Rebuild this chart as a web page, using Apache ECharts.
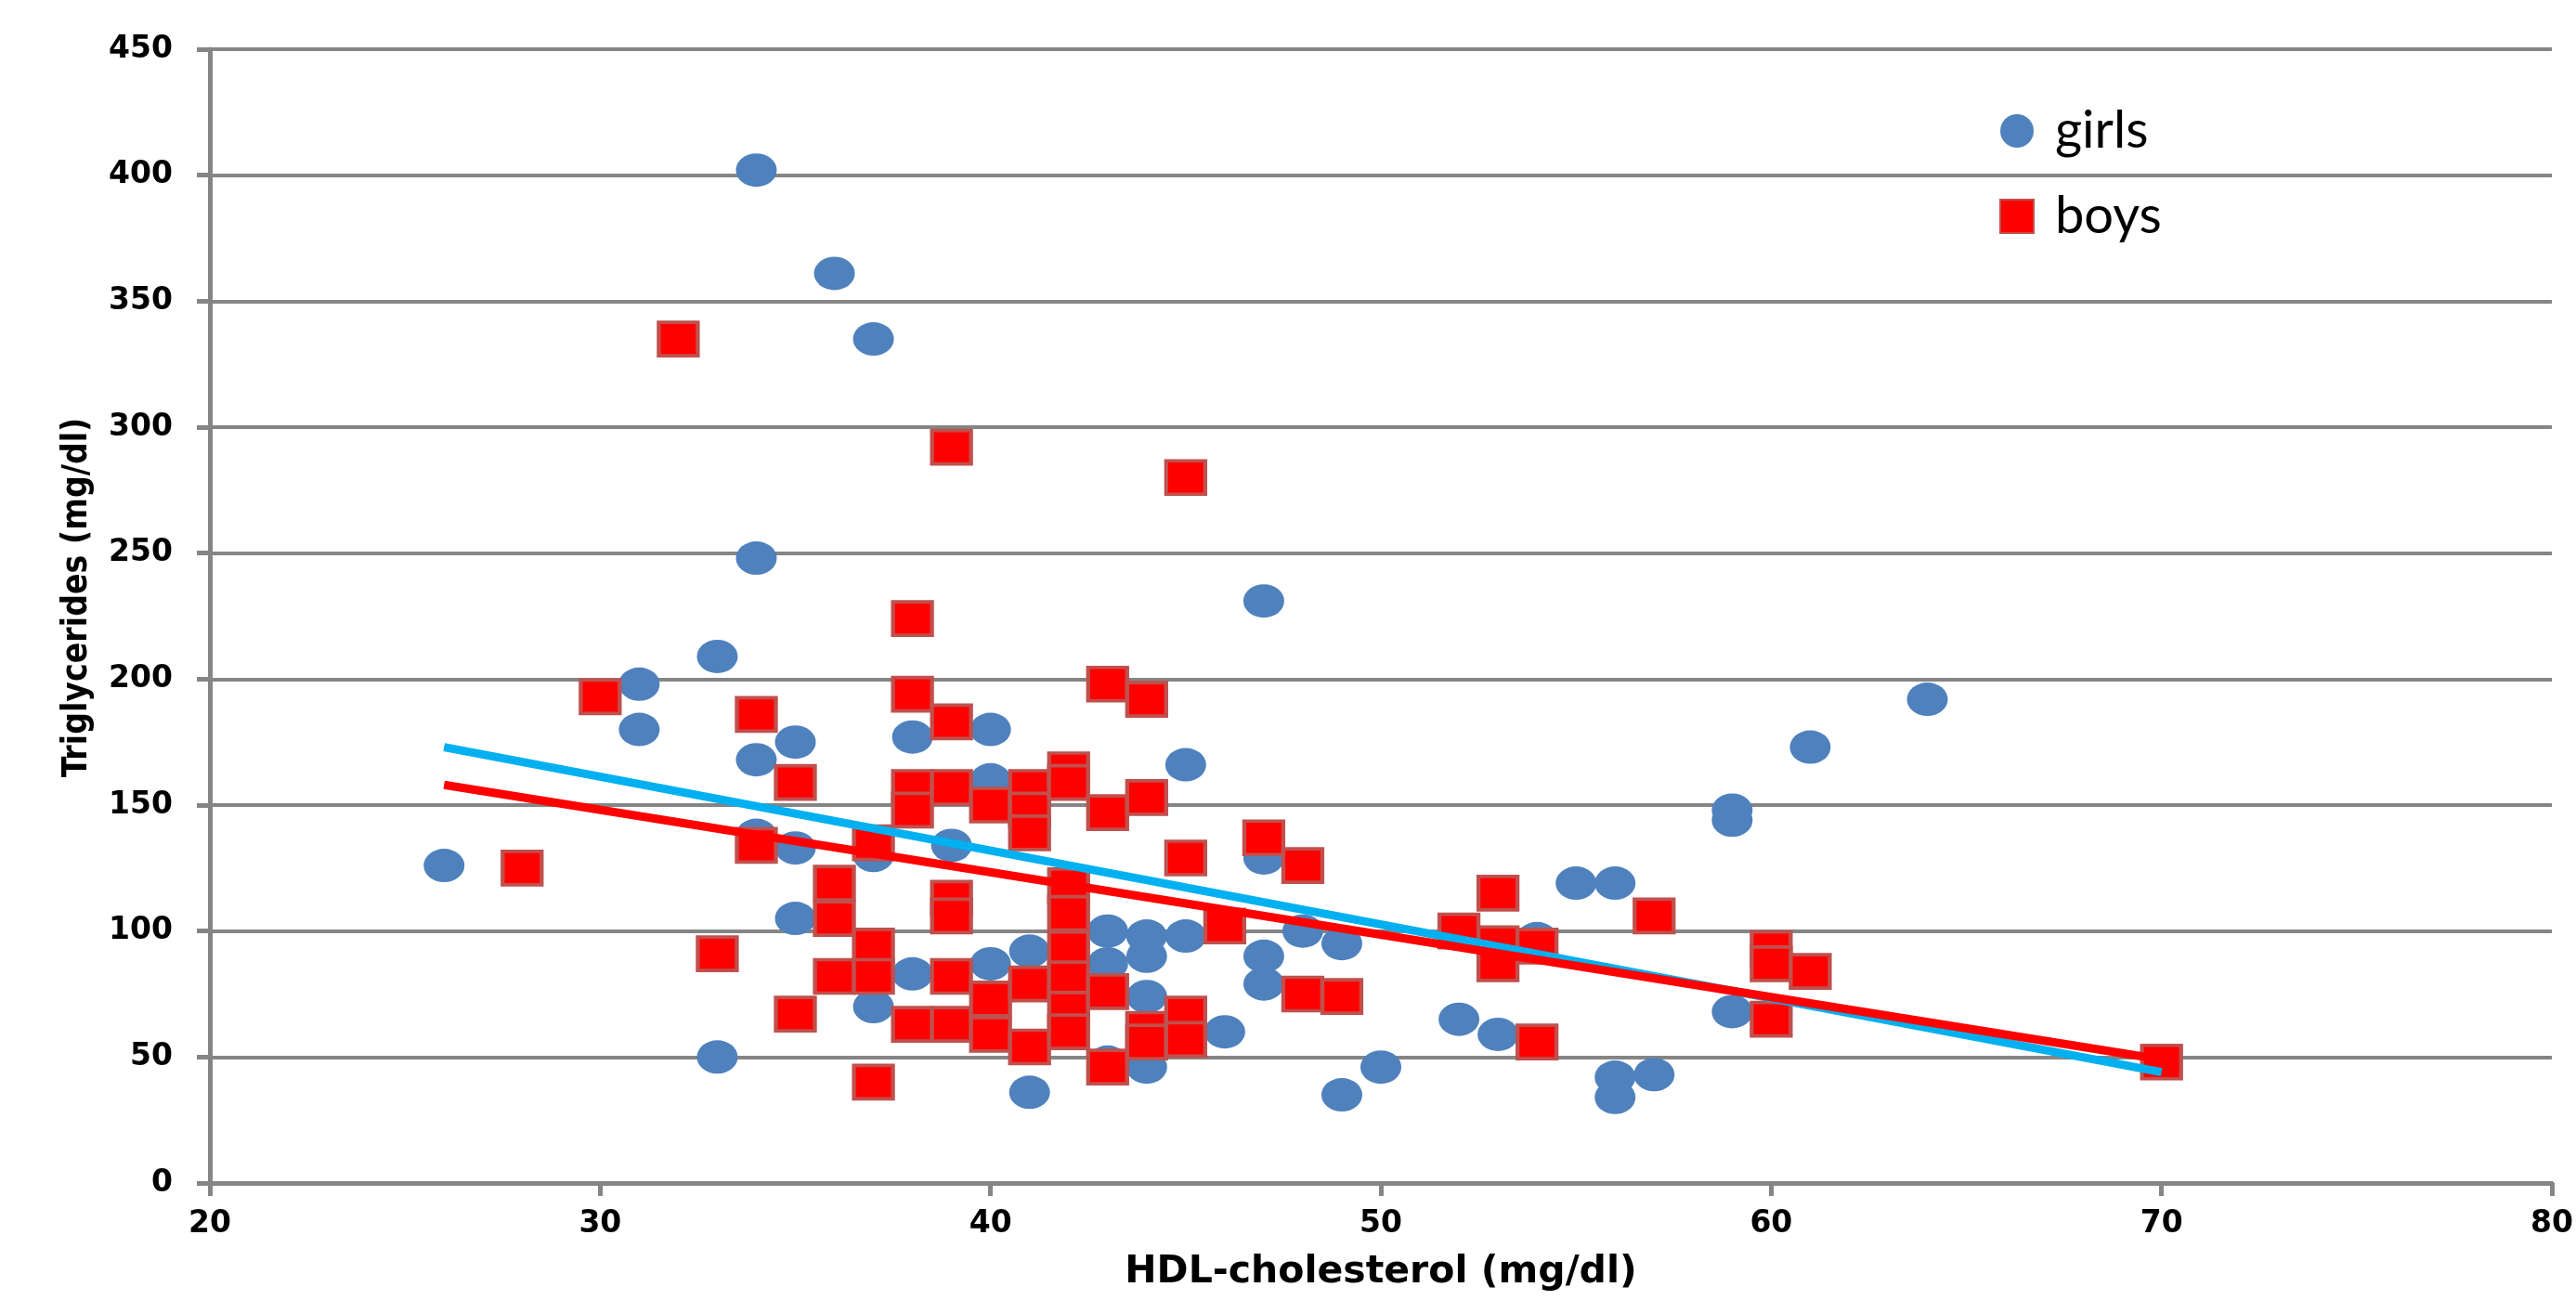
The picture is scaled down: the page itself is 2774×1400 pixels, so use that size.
<!DOCTYPE html>
<html>
<head>
<meta charset="utf-8">
<script src="https://cdn.jsdelivr.net/npm/echarts@6/dist/echarts.min.js"></script>
<style>
  html, body { margin: 0; padding: 0; background: #fff; }
  #chart { width: 2774px; height: 1400px; }
</style>
</head>
<body>
<div id="chart"></div>
<script>
// HDL-cholesterol (x) vs triglycerides (y)
var girls = [
  [26,126],[31,198],[31,180],[33,209],[33,50],[34,402],[34,248],[34,168],[34,138],
  [35,175],[35,133],[35,105],[36,361],[36,112],[37,335],[37,130],[37,70],[38,177],
  [38,83],[39,134],[40,180],[40,160],[40,87],[41,92],[41,36],[42,62],[43,100],
  [43,87],[43,48],[44,98],[44,90],[44,74],[44,46],[45,166],[45,98],[46,60],
  [47,231],[47,129],[47,90],[47,79],[48,100],[49,95],[49,35],[50,46],[52,65],
  [53,59],[54,97],[55,119],[56,119],[56,42],[56,34],[57,43],[59,148],[59,144],
  [59,68],[61,173],[64,192]
]
var boys = [
  [28,125],[30,193],[32,335],[33,91],[34,186],[34,134],[35,159],[35,67],[36,119],
  [36,105],[36,82],[37,135],[37,94],[37,82],[37,40],[38,224],[38,194],[38,157],
  [38,148],[38,63],[39,292],[39,183],[39,157],[39,113],[39,106],[39,82],[39,63],
  [40,150],[40,73],[40,59],[41,157],[41,148],[41,139],[41,79],[41,54],[42,164],
  [42,159],[42,118],[42,107],[42,93],[42,81],[42,69],[42,60],[43,198],[43,147],
  [43,76],[43,46],[44,192],[44,153],[44,61],[44,56],[45,280],[45,129],[45,67],
  [45,57],[46,102],[47,137],[48,126],[48,75],[49,74],[52,100],[53,115],[53,95],
  [53,87],[54,94],[54,56],[57,106],[60,93],[60,87],[60,65],[61,84],[70,48]
]
// linear trend lines (end points)
var girlsTrend = [[26,173],[70,44]]
var boysTrend = [[26,158],[70,49]]

var ellipse = 'path://M0 50a50 50 0 1 0 100 0a50 50 0 1 0 -100 0z'
var rect = 'path://M0 0L100 0L100 100L0 100Z'
var gridGray = '#858585'

var chart = echarts.init(document.getElementById('chart'))
chart.setOption({
  animation: false,
  backgroundColor: '#ffffff',
  grid: {
    left: 226,
    right: 20,
    top: 53,
    bottom: 126
  },
  legend: {
    data: [
      {name: 'girls', icon: ellipse},
      {name: 'boys', icon: rect}
    ],
    orient: 'vertical',
    left: 2148,
    top: 106,
    itemWidth: 44,
    itemHeight: 36,
    itemGap: 32,
    textStyle: {
      fontFamily: 'Lato',
      fontSize: 56,
      color: '#000',
      lineHeight: 60,
      padding: [0, 0, 0, 14]
    }
  },
  xAxis: {
    type: 'value',
    min: 20,
    max: 80,
    interval: 10,
    name: 'HDL-cholesterol (mg/dl)',
    nameLocation: 'middle',
    nameGap: 76,
    nameTextStyle: {
      fontFamily: 'DejaVu Sans',
      fontWeight: 'bold',
      fontSize: 41,
      color: '#000'
    },
    axisLine: {show: true, lineStyle: {color: gridGray, width: 5}},
    axisTick: {show: true, length: 14, lineStyle: {color: gridGray, width: 5}},
    axisLabel: {
      margin: 28,
      fontFamily: 'DejaVu Sans',
      fontWeight: 'bold',
      fontSize: 33,
      color: '#000'
    },
    splitLine: {show: false}
  },
  yAxis: {
    type: 'value',
    min: 0,
    max: 450,
    interval: 50,
    name: 'Triglycerides (mg/dl)',
    nameLocation: 'middle',
    nameGap: 124,
    nameTextStyle: {
      fontFamily: "'DejaVu Sans Condensed', 'Liberation Sans', sans-serif",
      fontWeight: 'bold',
      fontSize: 37,
      color: '#000',
      padding: [0, 0, 0, 40]
    },
    axisLine: {show: true, lineStyle: {color: gridGray, width: 5}},
    axisTick: {show: true, length: 14, lineStyle: {color: gridGray, width: 5}},
    axisLabel: {
      margin: 40,
      fontFamily: 'DejaVu Sans',
      fontWeight: 'bold',
      fontSize: 33,
      color: '#000'
    },
    splitLine: {show: true, lineStyle: {color: gridGray, width: 4}}
  },
  series: [
    {
      name: 'girls',
      type: 'scatter',
      symbol: ellipse,
      symbolSize: [44, 36],
      itemStyle: {color: '#4F81BD', opacity: 1},
      data: girls,
      z: 2
    },
    {
      name: 'boys',
      type: 'scatter',
      symbol: rect,
      symbolSize: [42, 36],
      itemStyle: {color: '#FF0000', borderColor: '#C0504D', borderWidth: 4, opacity: 1},
      data: boys,
      z: 3
    },
    {
      name: 'girls trend',
      type: 'line',
      data: girlsTrend,
      symbol: 'none',
      lineStyle: {color: '#00B0F0', width: 9},
      z: 4
    },
    {
      name: 'boys trend',
      type: 'line',
      data: boysTrend,
      symbol: 'none',
      lineStyle: {color: '#FF0000', width: 9},
      z: 5
    }
  ]
})
</script>
</body>
</html>
